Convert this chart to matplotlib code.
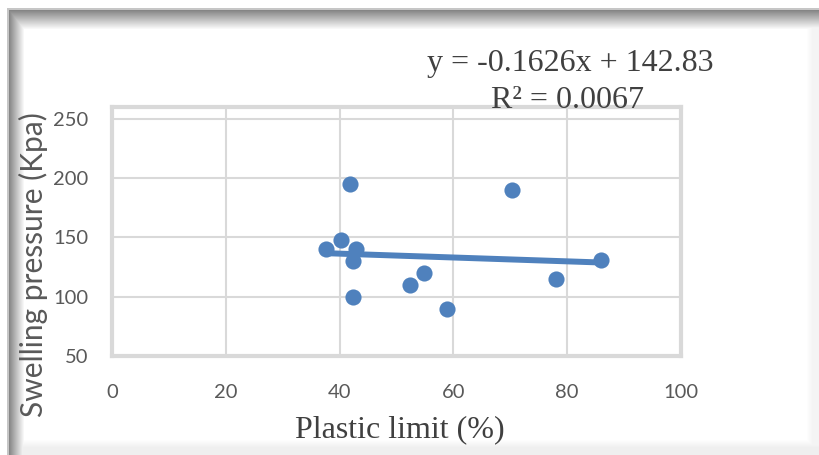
import matplotlib.pyplot as plt
import numpy as np

# data
plastic_limit = [37.6, 40.2, 41.8, 42.9, 42.4, 42.4, 52.4, 54.8, 58.9, 70.3, 78.0, 86.0]
swelling = [140, 148, 195, 140, 130, 100, 110, 120, 90, 190, 115, 131]
slope, intercept = -0.1626, 142.83
r2 = 0.0067
xticks = [0, 20, 40, 60, 80, 100]
yticks = [50, 100, 150, 200, 250]

blue = '#4f81bd'
grid = '#d9d9d9'

fig = plt.figure(figsize=(8.2, 4.55), dpi=100)

# outer frame with a soft shadow on top/left
bg = fig.add_axes([0, 0, 1, 1], zorder=-5)
W, H = 820, 455
img = np.ones((H, W, 3))
xx = np.arange(W)[None, :]
yy = np.arange(H)[:, None]
shade = np.ones((H, W))
shade = np.minimum(shade, 0.5 + 0.5 * np.clip((xx - 8) / 16, 0, 1))
shade = np.minimum(shade, 0.5 + 0.5 * np.clip((yy - 9) / 20, 0, 1))
shade = np.minimum(shade, 0.96 + 0.04 * np.clip((812 - xx) / 6, 0, 1))
shade = np.minimum(shade, 0.94 + 0.06 * np.clip((447 - yy) / 8, 0, 1))
shade[(xx < 7) | (yy < 8)] = 1.0
shade[8:, 7:9] = 0.78
shade[8:10, 7:] = 0.78
img *= shade[:, :, None]
bg.imshow(img, extent=[0, W, H, 0], aspect='auto')
bg.set_axis_off()

ax = fig.add_axes([112 / 820, 1 - 356 / 455, 569 / 820, 249 / 455])
ax.scatter(plastic_limit, swelling, s=135, color=blue, zorder=3, linewidths=0)
xs = np.array([min(plastic_limit), max(plastic_limit)])
ax.plot(xs, slope * xs + intercept, color=blue, lw=4.3, zorder=2, solid_capstyle='butt')

ax.set_xlim(0, 100)
ax.set_ylim(50, 260)
ax.set_xticks(xticks)
ax.set_yticks(yticks)
ax.grid(True, color=grid, lw=1.5)
ax.set_axisbelow(True)
for sp in ax.spines.values():
    sp.set_color(grid)
    sp.set_linewidth(3)
ax.tick_params(axis='x', length=0, labelsize=14.5, labelcolor='#595959', pad=20)
ax.tick_params(axis='y', length=0, labelsize=14.5, labelcolor='#595959', pad=17)
for lab in ax.get_xticklabels() + ax.get_yticklabels():
    lab.set_family('Lato')

fig.text(33 / 820, 1 - 265 / 455, 'Swelling pressure (Kpa)', family='Lato', fontsize=21.5,
         color='#595959', rotation=90, ha='center', va='center')
fig.text(400 / 820, 1 - 430 / 455, 'Plastic limit (%)', family='Liberation Serif', fontsize=23,
         color='#404040', ha='center', va='center')

fig.text(570 / 820, 1 - 63 / 455, 'y = -0.1626x + 142.83', family='Liberation Serif', fontsize=23,
         color='#404040', ha='center', va='center')
fig.text(568 / 820, 1 - 100 / 455, 'R² = %.4f' % r2, family='Liberation Serif', fontsize=23,
         color='#404040', ha='center', va='center')

fig.savefig('out.png', dpi=100)
